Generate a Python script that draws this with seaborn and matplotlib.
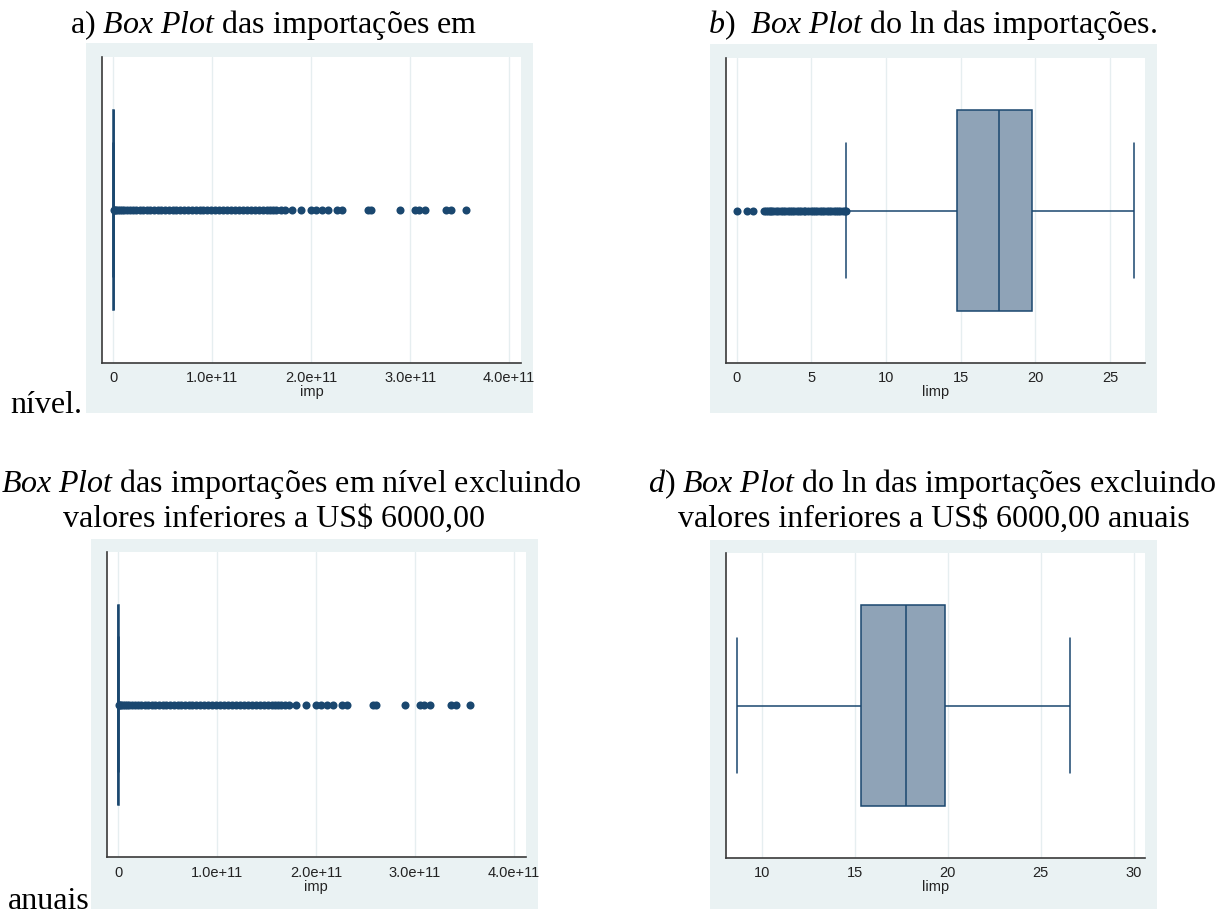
import matplotlib
matplotlib.use("Agg")
import matplotlib.pyplot as plt
from matplotlib.patches import Rectangle
import seaborn as sns

# five-number summaries: [low whisker, q1, median, q3, high whisker]
imp_box = [1.0, 2.5e6, 4.1e7, 3.8e8, 9.4e8]
limp_box = [7.32, 14.74, 17.54, 19.76, 26.58]
imp6000_box = [6000.0, 4.7e6, 5.3e7, 4.3e8, 1.05e9]
limp6000_box = [8.65, 15.36, 17.78, 19.87, 26.59]

# outside values, imports in level (units of 1e11 US$)
imp_outliers_e11 = [
    0.01, 0.02, 0.03, 0.05, 0.07, 0.09, 0.11, 0.14, 0.17, 0.20, 0.23, 0.27,
    0.30, 0.34, 0.37, 0.41, 0.45, 0.48, 0.52, 0.56, 0.60, 0.63, 0.67, 0.71,
    0.75, 0.79, 0.83, 0.87, 0.91, 0.95, 0.99, 1.03, 1.07, 1.11, 1.15, 1.19,
    1.23, 1.27, 1.31, 1.35, 1.39, 1.43, 1.47, 1.51, 1.55, 1.58, 1.61, 1.64,
    1.69, 1.73, 1.80, 1.90, 2.00, 2.05, 2.11, 2.17, 2.26, 2.31, 2.57, 2.60,
    2.90, 3.05, 3.09, 3.15, 3.36, 3.41, 3.56,
]
# outside values, ln of imports (panel b only)
limp_outliers = [
    0.0, 0.69, 1.10, 1.79, 1.95, 2.08, 2.20, 2.30, 2.40, 2.64, 2.77, 2.94,
    3.09, 3.22, 3.40, 3.53, 3.69, 3.83, 4.01, 4.14, 4.32, 4.47, 4.60, 4.79,
    4.94, 5.08, 5.25, 5.39, 5.56, 5.70, 5.86, 6.02, 6.17, 6.33, 6.48, 6.63,
    6.80, 6.93, 7.09, 7.22, 7.30,
]
imp_outliers = [v * 1e11 for v in imp_outliers_e11]

imp_ticks = [0, 1e11, 2e11, 3e11, 4e11]
imp_ticklabels = ["0", "1.0e+11", "2.0e+11", "3.0e+11", "4.0e+11"]
limp_ticks = [0, 5, 10, 15, 20, 25]
limp6000_ticks = [10, 15, 20, 25, 30]

NAVY = "#1a476f"
BOX_FILL = "#8fa3b7"
PANEL_BG = "#eaf2f3"
GRID = "#e6eef0"
AXIS = "#3a3a3a"

W, H = 1228, 915

sns.set_theme(style="white")
plt.rcParams["font.family"] = ["Liberation Sans Narrow", "Liberation Sans", "DejaVu Sans"]
plt.rcParams["mathtext.fontset"] = "custom"
plt.rcParams["mathtext.rm"] = "Liberation Serif"
plt.rcParams["mathtext.it"] = "Liberation Serif:italic"

fig = plt.figure(figsize=(W / 100, H / 100), dpi=100)
fig.patch.set_facecolor("white")


def px_axes(x0, y0, x1, y1):
    return fig.add_axes([x0 / W, 1 - y1 / H, (x1 - x0) / W, (y1 - y0) / H])


def panel_bg(x0, y0, x1, y1):
    fig.add_artist(Rectangle((x0 / W, 1 - y1 / H), (x1 - x0) / W, (y1 - y0) / H,
                             transform=fig.transFigure, facecolor=PANEL_BG,
                             edgecolor="none", zorder=-5))


def draw_box(ax, box_vals, outliers, ticks, ticklabels, xlim, xlabel):
    sns.boxplot(x=box_vals, ax=ax, orient="h", width=0.656, color=BOX_FILL,
                linecolor=NAVY, linewidth=1.1, saturation=1, whis=1.5,
                showfliers=False, capwidths=0.44)
    if outliers:
        sns.stripplot(x=outliers, ax=ax, orient="h", jitter=False,
                      color=NAVY, size=5.8)
    ax.set_xlim(*xlim)
    ax.set_ylim(0.5, -0.5)
    ax.set_yticks([])
    ax.set_xticks(ticks)
    ax.set_xticklabels(ticklabels)
    ax.set_facecolor("white")
    ax.grid(axis="x", color=GRID, linewidth=1.0)
    ax.set_axisbelow(True)
    for side in ["top", "right"]:
        ax.spines[side].set_visible(False)
    for side in ["left", "bottom"]:
        ax.spines[side].set_color(AXIS)
        ax.spines[side].set_linewidth(1.2)
    ax.tick_params(axis="x", direction="out", length=4, width=1, color=AXIS,
                   pad=2, labelsize=10.5, labelcolor="#222222")
    ax.set_xlabel(xlabel, fontsize=10.5, labelpad=0, color="#222222")
    ax.set_ylabel("")


# grey graph regions
panel_bg(86, 43, 533, 413)
panel_bg(710, 44, 1157, 413)
panel_bg(91, 539, 538, 909)
panel_bg(710, 540, 1157, 909)

ax_a = px_axes(102, 57, 521, 363)
ax_b = px_axes(725.5, 58, 1145.3, 363)
ax_c = px_axes(106.8, 552, 525.9, 857.3)
ax_d = px_axes(725.5, 553, 1145.3, 858)

draw_box(ax_a, imp_box, imp_outliers, imp_ticks, imp_ticklabels,
         (-0.116e11, 4.12e11), "imp")
draw_box(ax_b, limp_box, limp_outliers, limp_ticks,
         [str(t) for t in limp_ticks], (-0.76, 27.37), "limp")
draw_box(ax_c, imp6000_box, imp_outliers, imp_ticks, imp_ticklabels,
         (-0.116e11, 4.12e11), "imp")
draw_box(ax_d, limp6000_box, [], limp6000_ticks,
         [str(t) for t in limp6000_ticks], (8.05, 30.63), "limp")

# captions in the document font
serif = dict(family="Liberation Serif", fontsize=23, color="black", va="baseline")


def caption(x, y, s, ha="center"):
    fig.text(x / W, 1 - y / H, s, ha=ha, **serif)


caption(274, 33, r"a) $\mathit{Box\ Plot}$ das importações em")
caption(10, 413, "nível.", ha="left")
caption(933, 33, r"$\mathit{b)}$  $\mathit{Box\ Plot}$ do ln das importações.")
# the caption of panel c starts at the page margin, its "c)" falls outside the crop
caption(1, 492, r"$\mathit{Box\ Plot}$ das importações em nível excluindo", ha="left")
caption(274, 527, "valores inferiores a US$ 6000,00")
caption(8, 909, "anuais", ha="left")
caption(932, 492, r"$\mathit{d)\ Box\ Plot}$ do ln das importações excluindo")
caption(934, 527, "valores inferiores a US$ 6000,00 anuais")

fig.savefig("out.png", dpi=100, facecolor="white")
